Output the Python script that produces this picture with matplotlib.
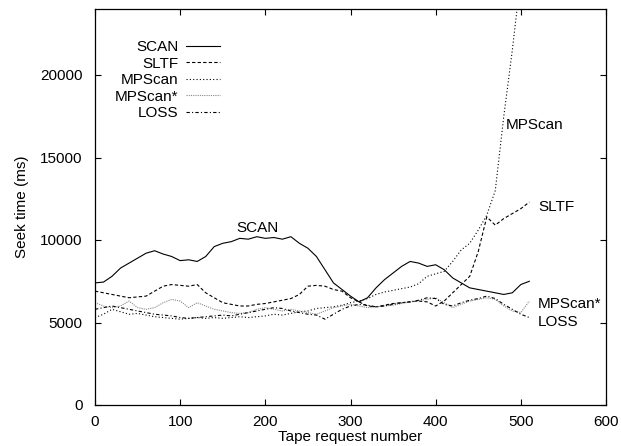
import matplotlib
matplotlib.use("Agg")
import matplotlib.pyplot as plt

plt.rcParams['font.family'] = ['Liberation Sans', 'DejaVu Sans']

# request number grid (every 10 requests)
requests = list(range(0, 520, 10))

scan = [7400, 7450, 7800, 8300, 8600, 8900, 9200, 9350, 9150, 9000,
        8750, 8800, 8700, 9000, 9600, 9800, 9900, 10100, 10050, 10200,
        10100, 10150, 10050, 10200, 9800, 9500, 9000, 8200, 7400, 7000,
        6600, 6250, 6500, 7100, 7600, 8000, 8400, 8700, 8600, 8400,
        8500, 8200, 7700, 7400, 7100, 7000, 6900, 6800, 6700, 6800,
        7300, 7500]

sltf = [6900, 6800, 6700, 6600, 6500, 6550, 6600, 6900, 7200, 7300,
        7250, 7200, 7300, 6800, 6500, 6200, 6100, 6000, 6000, 6100,
        6150, 6250, 6350, 6450, 6700, 7200, 7250, 7200, 7000, 6900,
        6500, 6250, 6000, 5950, 6050, 6150, 6200, 6250, 6300, 6250,
        6000, 6300, 6800, 7300, 7800, 9300, 11400, 10900, 11300, 11600,
        11900, 12300]

mpscan = [5300, 5500, 5800, 5650, 5500, 5550, 5450, 5350, 5300, 5250,
          5200, 5250, 5300, 5250, 5300, 5250, 5300, 5350, 5300, 5350,
          5400, 5500, 5450, 5550, 5650, 5700, 5850, 5900, 5950, 6050,
          6200, 6300, 6450, 6700, 6850, 6950, 7050, 7150, 7350, 7800,
          7950, 8100, 8700, 9400, 9800, 10600, 11500, 13000, 17500, 21500,
          26000, 29000]

mpscan_star = [6200, 6000, 5900, 6000, 6300, 5900, 5800, 5900, 6200, 6400,
               6300, 5900, 6200, 6000, 5800, 5700, 5600, 5550, 5600, 5800,
               5900, 5800, 5700, 5800, 5700, 5600, 5500, 5700, 5900, 6000,
               6100, 6000, 5900, 5950, 6000, 6050, 6150, 6250, 6300, 6400,
               6500, 6200, 5900, 6100, 6300, 6400, 6500, 6400, 6000, 5700,
               5600, 6300]

loss = [5800, 5900, 6000, 5900, 5800, 5700, 5600, 5500, 5450, 5400,
        5300, 5250, 5300, 5350, 5400, 5450, 5400, 5500, 5600, 5700,
        5800, 5900, 5850, 5700, 5600, 5500, 5450, 5200, 5500, 5800,
        6000, 6100, 6050, 5950, 6000, 6100, 6200, 6250, 6350, 6500,
        6450, 6100, 6000, 6200, 6350, 6450, 6600, 6450, 6100, 5800,
        5500, 5300]

fig = plt.figure(figsize=(6.21, 4.46), dpi=100)
ax = fig.add_axes([95 / 621, 1 - 405 / 446, 511 / 621, 396 / 446])

lw = 0.8
ax.plot(requests, scan, color='black', lw=lw, ls='-', label='SCAN')
ax.plot(requests, sltf, color='black', lw=lw, ls=(0, (3, 2)), label='SLTF')
ax.plot(requests, mpscan, color='black', lw=lw, ls=(0, (1, 2)), label='MPScan')
ax.plot(requests, mpscan_star, color='#888888', lw=lw, ls=(0, (1, 1)), label='MPScan*')
ax.plot(requests, loss, color='black', lw=lw, ls=(0, (3, 2, 1, 2)), label='LOSS')

ax.set_xlim(0, 600)
ax.set_ylim(0, 24000)
ax.set_xticks(range(0, 700, 100))
ax.set_yticks(range(0, 25000, 5000))
ax.tick_params(direction='in', top=True, right=True, length=4, labelsize=11)
ax.tick_params(axis='x', pad=7)
ax.tick_params(axis='y', pad=9)
for s in ax.spines.values():
    s.set_linewidth(0.9)

ax.set_xlabel('Tape request number', fontsize=11, labelpad=1)
ax.set_ylabel('Seek time (ms)', fontsize=11, labelpad=8)

# curve labels
ax.text(191, 10700, 'SCAN', fontsize=11, ha='center', va='center')
ax.text(482, 16950, 'MPScan', fontsize=11, ha='left', va='center')
ax.text(520, 12000, 'SLTF', fontsize=11, ha='left', va='center')
ax.text(520, 6100, 'MPScan*', fontsize=11, ha='left', va='center')
ax.text(520, 5050, 'LOSS', fontsize=11, ha='left', va='center')

ax.legend(loc='upper left', bbox_to_anchor=(0.018, 0.948), frameon=False,
          markerfirst=False, fontsize=11, handlelength=2.2,
          handletextpad=0.5, labelspacing=0.16, borderaxespad=0.3)

fig.savefig('out.png', dpi=100)
